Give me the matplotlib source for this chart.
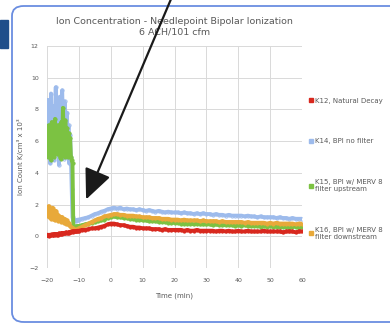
import numpy as np
import matplotlib
matplotlib.use("Agg")
import matplotlib.pyplot as plt
from matplotlib.patches import FancyBboxPatch, FancyArrowPatch, Rectangle

# sample times (min): quarter-minute steps up to -10, then one per minute
time_min = list(np.arange(-20, -9.99, 0.25)) + list(range(-9, 61))

k12_natural = [0.05, 0.1, 0.0, 0.08, 0.1, 0.05, 0.12, 0.08, 0.05, 0.15, 0.1, 0.12, 0.08, 0.15, 0.1, 0.18, 0.12, 0.15, 0.2, 0.15,
               0.2, 0.18, 0.22, 0.2, 0.25, 0.22, 0.2, 0.25, 0.22, 0.28, 0.25, 0.3, 0.28, 0.3, 0.32, 0.3, 0.3, 0.33, 0.35, 0.32, 0.35,
               0.4, 0.4, 0.45, 0.5, 0.5, 0.55, 0.6, 0.65, 0.75, 0.8,
               0.8, 0.75, 0.7, 0.7, 0.65, 0.6, 0.6, 0.55, 0.55, 0.5,
               0.5, 0.5, 0.45, 0.45, 0.45, 0.4, 0.45, 0.4, 0.4, 0.4,
               0.4, 0.4, 0.35, 0.4, 0.35, 0.35, 0.4, 0.35, 0.35, 0.35,
               0.35, 0.35, 0.3, 0.35, 0.35, 0.3, 0.35, 0.3, 0.3, 0.35,
               0.3, 0.3, 0.35, 0.3, 0.3, 0.3, 0.3, 0.35, 0.3, 0.3,
               0.3, 0.3, 0.3, 0.25, 0.3, 0.3, 0.3, 0.25, 0.3, 0.3]

k14_no_filter = [6.2, 8.6, 5.0, 7.8, 4.6, 9.0, 6.4, 5.2, 8.2, 4.8, 7.0, 9.4, 5.5, 8.0, 6.0, 4.5, 8.8, 6.6, 5.2, 9.2,
                 7.4, 4.9, 8.5, 6.2, 5.0, 7.8, 5.6, 7.0, 4.6, 6.4, 5.0, 3.0, 1.2, 1.0, 0.95, 1.0, 0.95, 1.0, 1.0, 1.05, 1.05,
                 1.1, 1.15, 1.2, 1.3, 1.4, 1.45, 1.55, 1.6, 1.7, 1.75,
                 1.8, 1.75, 1.8, 1.7, 1.75, 1.7, 1.7, 1.65, 1.7, 1.65,
                 1.6, 1.65, 1.6, 1.55, 1.6, 1.55, 1.5, 1.55, 1.5, 1.5,
                 1.5, 1.45, 1.5, 1.45, 1.45, 1.4, 1.45, 1.4, 1.45, 1.4,
                 1.4, 1.35, 1.4, 1.35, 1.35, 1.3, 1.35, 1.3, 1.3, 1.3,
                 1.3, 1.25, 1.3, 1.25, 1.25, 1.2, 1.25, 1.2, 1.2, 1.2,
                 1.2, 1.15, 1.2, 1.15, 1.15, 1.1, 1.15, 1.1, 1.1, 1.1]

k15_upstream = [6.0, 5.0, 7.0, 5.6, 6.6, 4.8, 7.2, 5.4, 6.4, 5.0, 7.4, 5.8, 6.8, 5.2, 7.0, 5.5, 6.2, 4.9, 7.2, 5.6,
                8.1, 6.0, 5.0, 7.3, 5.6, 6.8, 5.0, 6.5, 5.4, 6.2, 5.0, 4.8, 4.6, 0.7, 0.6, 0.6, 0.6, 0.62, 0.62, 0.65, 0.65,
                0.7, 0.75, 0.8, 0.85, 0.9, 0.95, 1.0, 1.05, 1.15, 1.2,
                1.25, 1.2, 1.2, 1.15, 1.15, 1.1, 1.1, 1.05, 1.05, 1.0,
                1.0, 0.95, 0.95, 0.95, 0.9, 0.9, 0.9, 0.85, 0.85, 0.85,
                0.85, 0.8, 0.8, 0.8, 0.8, 0.75, 0.8, 0.75, 0.75, 0.75,
                0.75, 0.7, 0.75, 0.7, 0.7, 0.7, 0.7, 0.7, 0.65, 0.7,
                0.65, 0.7, 0.65, 0.65, 0.65, 0.65, 0.6, 0.65, 0.6, 0.65,
                0.6, 0.6, 0.6, 0.6, 0.6, 0.55, 0.6, 0.6, 0.55, 0.6]

k16_downstream = [1.7, 1.3, 1.9, 1.2, 1.6, 1.1, 1.5, 1.8, 1.1, 1.4, 1.0, 1.6, 1.2, 1.4, 0.95, 1.3, 1.1, 1.2, 0.9, 1.2,
                  1.0, 0.85, 1.1, 0.9, 0.8, 1.0, 0.75, 0.85, 0.7, 0.65, 0.6, 0.55, 0.5, 0.45, 0.45, 0.4, 0.4, 0.42, 0.45, 0.48, 0.5,
                  0.6, 0.7, 0.8, 0.9, 1.0, 1.1, 1.15, 1.25, 1.3, 1.35,
                  1.4, 1.4, 1.35, 1.35, 1.3, 1.3, 1.3, 1.25, 1.25, 1.2,
                  1.2, 1.2, 1.15, 1.15, 1.15, 1.1, 1.1, 1.1, 1.05, 1.05,
                  1.05, 1.0, 1.05, 1.0, 1.0, 1.0, 1.0, 0.95, 1.0, 0.95,
                  0.95, 0.95, 0.95, 0.9, 0.95, 0.9, 0.9, 0.9, 0.9, 0.9,
                  0.9, 0.85, 0.9, 0.85, 0.85, 0.85, 0.85, 0.85, 0.8, 0.85,
                  0.8, 0.85, 0.8, 0.8, 0.8, 0.8, 0.8, 0.75, 0.8, 0.8]

labels = ["K12, Natural Decay", "K14, BPI no filter",
          "K15, BPI w/ MERV 8\nfilter upstream", "K16, BPI w/ MERV 8\nfilter downstream"]
colors = ["#d8281e", "#9dbbec", "#7cc242", "#e8a93a"]
xticks = [-20, -10, 0, 10, 20, 30, 40, 50, 60]
yticks = [-2, 0, 2, 4, 6, 8, 10, 12]

fig = plt.figure(figsize=(3.9, 3.26), dpi=100)
ax = fig.add_axes([0.1205, 0.178, 0.654, 0.681])

series = [k12_natural, k14_no_filter, k15_upstream, k16_downstream]
order = [1, 2, 3, 0]  # blue at back, red on top
for i in order:
    mfc = "none" if i == 1 else colors[i]
    ax.plot(time_min, series[i], color=colors[i], lw=2.8, marker="o", ms=2.4,
            mfc=mfc, mec=colors[i], mew=0.6, label=labels[i])

ax.set_xlim(-20, 60)
ax.set_ylim(-2, 12)
ax.set_xticks(xticks)
ax.set_yticks(yticks)
ax.grid(True, color="#d9d9d9", lw=0.7)
ax.set_axisbelow(True)
for s in ax.spines.values():
    s.set_visible(False)
ax.tick_params(length=0, labelsize=4.5, labelcolor="#595959", pad=7)
ax.tick_params(axis="y", pad=6)
ax.set_xlabel("Time (min)", fontsize=5, color="#595959", labelpad=7)
ax.set_ylabel("Ion Count K/cm³ x 10³", fontsize=5, color="#595959", labelpad=4)
ax.set_title("Ion Concentration - Needlepoint Bipolar Ionization\n6 ACH/101 cfm",
             fontsize=6.8, color="#595959", pad=8, linespacing=1.2)

leg_handles = [plt.Line2D([], [], ls="none", marker="s", ms=2.2, color=c) for c in colors]
fig.legend(leg_handles, labels, loc="upper left", bbox_to_anchor=(0.775, 0.72),
           frameon=False, fontsize=5.0, labelspacing=5.0, handlelength=0.6,
           handletextpad=0.4, labelcolor="#595959")

# rounded blue frame and dark tab on the left
fig.add_artist(FancyBboxPatch((12 / 390, 4 / 326), 1.2, 1 - 10 / 326,
                              boxstyle="round,pad=0,rounding_size=0.03",
                              transform=fig.transFigure, fill=False,
                              ec="#6a8de0", lw=1.3, clip_on=False))
fig.add_artist(Rectangle((0, 1 - 48 / 326), 8 / 390, 28 / 326,
                         transform=fig.transFigure, color="#1f4e8a"))

# pointer arrow
fig.add_artist(FancyArrowPatch((172 / 390, 1.01), (85 / 390, 1 - 202 / 326),
                               transform=fig.transFigure,
                               arrowstyle="-|>,head_length=8.5,head_width=3.8",
                               mutation_scale=2.2, color="#1a1a1a", lw=1.6))

fig.savefig("out.png", dpi=100)
